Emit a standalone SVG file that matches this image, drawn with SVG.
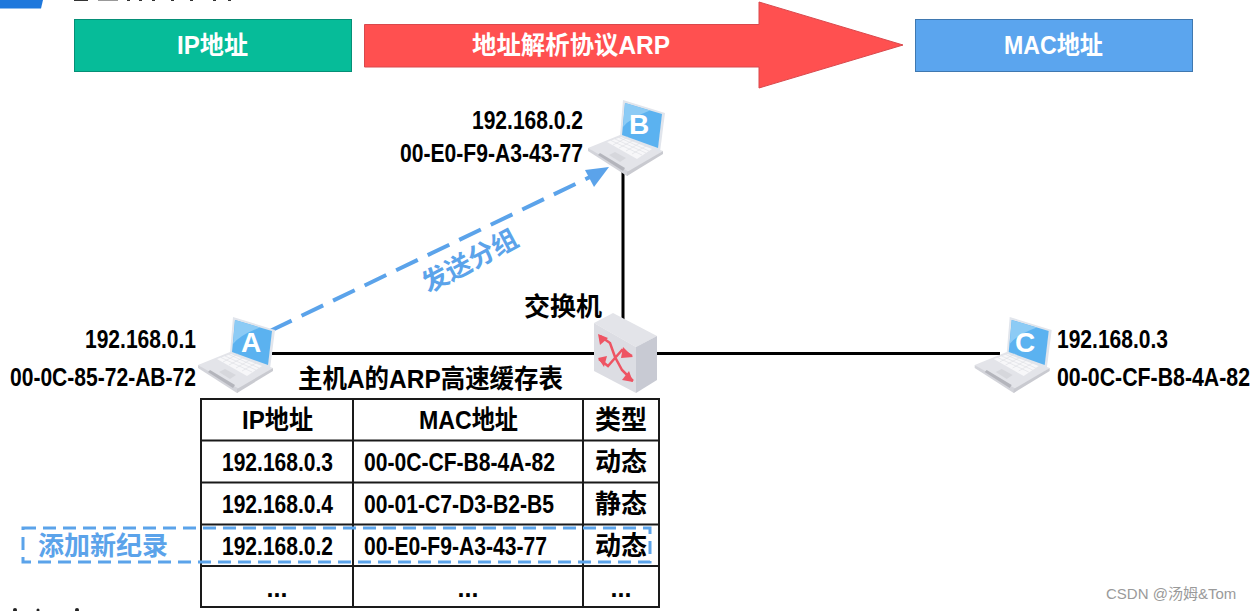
<svg xmlns="http://www.w3.org/2000/svg" width="1253" height="611" viewBox="0 0 1253 611">
<style>
text{font-family:"Liberation Sans","Noto Sans CJK SC",sans-serif;font-weight:700;fill:#000}
.t{font-size:25px}
.c{font-size:26px}
.h{font-size:25px;fill:#fff}
.l{fill:#fff;font-size:28px;text-anchor:middle}
.m{text-anchor:middle}
.w{stroke:#000;stroke-width:3;fill:none}
.g{stroke:#1a1a1a;stroke-width:2;fill:none}
.b{stroke:#5ba3ea;stroke-width:3;fill:none;stroke-dasharray:13 7}
.bl{fill:#5ba3ea}
.r{fill:#ee5463}
</style>
<defs>
<symbol id="lap" viewBox="0 0 100 90" width="100" height="90" overflow="visible">
<polygon points="8,55 40,42 83,58 47,82" fill="#e3e4e9"/>
<polygon points="8,55 8,58 47,83 51,80" fill="#d3d4da"/>
<polygon points="18,62 20,60 45,75 43,78" fill="#b4b5bc"/>
<polygon points="47,83 83,61 83,58 47,79" fill="#c9cad0"/>
<polygon points="43,7 85,20 80,59 40,43" fill="#e1e5ec"/>
<polygon points="45,10 82,21 78,55 42,42" fill="#5bb2f0"/>
<path d="M45,10 L70,17.500 Q50,25 43,34Z" fill="#8ccbf5"/>
<polygon points="27,49 41,44 72,56 57,66" fill="#f7f7f9"/>
<path d="M31,47.500L62,62M35,46L66,60M39,44.500L69,58M33,52L48,44M39,55L54,47M46,58L60,50M52,61L66,53" stroke="#dcdde2" stroke-width=".6" fill="none"/>
<polygon points="29,62 35,59 46,65 40,69" fill="#d6d7dc"/>
</symbol>
</defs>
<polygon points="0,0 43,0 41,8.500 0,8.500" fill="#1f78dc"/>
<g fill="#333"><rect x="74" y="0" width="14" height="1"/><rect x="98" y="0" width="20" height="1" fill="#999"/><rect x="127" y="0" width="3" height="1"/><rect x="139" y="0" width="3" height="1"/><rect x="152" y="0" width="3" height="1"/><rect x="171" y="0" width="3" height="1"/><rect x="190" y="0" width="3" height="1"/><rect x="213" y="0" width="3" height="1"/><rect x="228" y="0" width="3" height="1"/></g>
<g fill="#222"><circle cx="15" cy="610" r="2"/><circle cx="38" cy="610" r="1.500"/><circle cx="77" cy="610" r="2"/></g>
<g id="ip-box"><rect x="74.500" y="19.500" width="277" height="52" fill="#06bc99" stroke="#058f76"/><text class="h" x="177" y="54" textLength="71" lengthAdjust="spacingAndGlyphs">IP地址</text></g>
<g id="arp-arrow"><polygon points="364.500,24.500 759,24.500 759,2 903,45 759,88 759,67 364.500,67" fill="#ff5050" stroke="#d9484c"/><text class="h" x="472" y="54" textLength="198" lengthAdjust="spacingAndGlyphs">地址解析协议ARP</text></g>
<g id="mac-box"><rect x="915.500" y="19.500" width="277" height="52" fill="#5ba5ee" stroke="#3f78b0"/><text class="h" x="1004" y="54" textLength="99" lengthAdjust="spacingAndGlyphs">MAC地址</text></g>
<g id="connectors">
<path class="w" d="M623 170V320M272 353.500H600M650 353.500H1000"/>
<path d="M270 331L592 176" stroke="#5ba3ea" stroke-width="4" stroke-dasharray="24 11" fill="none"/>
<polygon points="609,167 585,170 594,187" class="bl"/>
</g>
<g id="host-a"><use href="#lap" x="190" y="310"/><text class="l" x="251" y="352">A</text>
<text class="t" x="85" y="348" textLength="111" lengthAdjust="spacingAndGlyphs">192.168.0.1</text><text class="t" x="10" y="386" textLength="186" lengthAdjust="spacingAndGlyphs">00-0C-85-72-AB-72</text></g>
<g id="host-b"><use href="#lap" x="580" y="93"/><text class="l" x="639" y="134">B</text>
<text class="t" x="472" y="129" textLength="111" lengthAdjust="spacingAndGlyphs">192.168.0.2</text><text class="t" x="400" y="162" textLength="183" lengthAdjust="spacingAndGlyphs">00-E0-F9-A3-43-77</text></g>
<g id="host-c"><use href="#lap" x="966.700" y="310"/><text class="l" x="1025" y="352">C</text>
<text class="t" x="1057" y="348" textLength="111" lengthAdjust="spacingAndGlyphs">192.168.0.3</text><text class="t" transform="translate(1057 386) scale(.853 1)">00-0C-CF-B8-4A-82</text></g>
<g id="switch">
<polygon points="594,323 613,313 657,336 636,347" fill="#e3e4e9"/>
<polygon points="594,323 636,347 636,393 594,371" fill="#dcdde3"/>
<polygon points="636,347 657,336 657,380 636,393" fill="#c8cad3"/>
<path d="M600,336L610,343L615,357L622,370L633,381M632,356L622,350L615,358L608,366L599,359" fill="none" stroke="#ee5463" stroke-width="2.500"/>
<polygon class="r" points="598,334 608,338 600,345"/><polygon class="r" points="633,357 623,347 621,358"/><polygon class="r" points="598,358 607,356 604,367"/><polygon class="r" points="633,382 622,380 629,371"/>
<text class="c m" x="563" y="316">交换机</text></g>
<text class="c" x="298" y="388" textLength="265" lengthAdjust="spacingAndGlyphs">主机A的ARP高速缓存表</text>
<text transform="translate(470,261) rotate(-28)" class="m" y="9" style="font-size:26px;fill:#5ba3ea">发送分组</text>
<g id="arp-table">
<rect class="g" x="201" y="399" width="458" height="208"/>
<path class="g" d="M353 399V607M583 399V607M201 440.500H659M201 482.500H659M201 524.500H659M201 566H659"/>
<g class="t">
<text x="242" y="429" class="c" textLength="71" lengthAdjust="spacingAndGlyphs">IP地址</text><text x="419" y="429" class="c" textLength="99" lengthAdjust="spacingAndGlyphs">MAC地址</text><text x="621" y="429" class="c m">类型</text>
<text x="222" y="471" textLength="111" lengthAdjust="spacingAndGlyphs">192.168.0.3</text><text x="364" y="471" textLength="191" lengthAdjust="spacingAndGlyphs">00-0C-CF-B8-4A-82</text><text x="621" y="471" class="c m">动态</text>
<text x="222" y="513" textLength="111" lengthAdjust="spacingAndGlyphs">192.168.0.4</text><text x="364" y="513" textLength="190" lengthAdjust="spacingAndGlyphs">00-01-C7-D3-B2-B5</text><text x="621" y="513" class="c m">静态</text>
<text x="222" y="555" textLength="111" lengthAdjust="spacingAndGlyphs">192.168.0.2</text><text x="364" y="555" textLength="183" lengthAdjust="spacingAndGlyphs">00-E0-F9-A3-43-77</text><text x="621" y="555" class="c m">动态</text>
<text x="277" y="597" class="m">...</text><text x="468" y="597" class="m">...</text><text x="621" y="597" class="m">...</text></g>
</g>
<g id="new-record"><rect class="b" x="23" y="528" width="627" height="34"/><text x="103" y="555" class="m" style="font-size:26px;fill:#5ba3ea">添加新纪录</text></g>
<text x="1106" y="599" style="font-size:15px;font-weight:400;fill:#9a9a9a">CSDN @汤姆&amp;Tom</text>
</svg>
